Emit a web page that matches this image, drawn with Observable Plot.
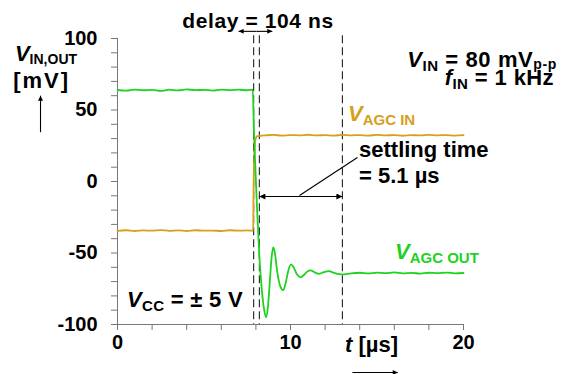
<!DOCTYPE html>
<html><head><meta charset="utf-8">
<script src="https://cdn.jsdelivr.net/npm/d3@7"></script>
<script src="https://cdn.jsdelivr.net/npm/@observablehq/plot@0.6"></script>
<style>body{margin:0;background:#fff} svg{display:block}</style>
</head><body><div id="chart"></div>
<script>
// ---- data ----
const tOut = [0,0.5,1,1.5,2,2.5,3,3.5,4,4.5,5,5.5,6,6.5,7,7.5,7.82,
  7.88,7.95,8.07,8.2,8.36,8.48,8.6,8.7,8.81,8.9,9.0,9.1,9.22,9.4,9.58,9.72,9.88,10.03,10.18,10.38,10.58,10.8,11.0,11.16,11.4,11.64,11.9,12.22,12.5,12.8,13.0,
  13.5,14,14.5,15,15.5,16,16.5,17,17.5,18,18.5,19,19.5,20];
const vOut = [64.0,63.6,64.3,63.8,64.1,63.4,64.2,63.7,64.4,63.9,64.1,63.6,64.3,63.9,64.2,63.8,64.3,
  38,15,-20,-52,-78,-90,-95,-87,-69,-54,-46,-50,-62,-73,-76,-71,-62,-58,-60,-65,-67,-65,-62.8,-62.2,-63.5,-64.6,-63.5,-62.7,-63.8,-64.8,-65,
  -64.2,-63.8,-64.3,-63.7,-64.1,-63.6,-64.2,-63.9,-64.4,-63.8,-64.1,-63.7,-64.2,-64.0];
const tIn = [0,0.5,1,1.5,2,2.5,3,3.5,4,4.5,5,5.5,6,6.5,7,7.5,7.84,
  7.86,7.9,7.97,8.07,8.5,9,9.5,10,10.5,11,11.5,12,12.5,13,13.5,14,14.5,15,15.5,16,16.5,17,17.5,18,18.5,19,19.5,20];
const vIn = [-34.5,-34.1,-34.6,-34.2,-34.4,-34.0,-34.5,-34.2,-34.6,-34.1,-34.4,-34.3,-34.6,-34.1,-34.4,-34.2,-34.4,
  -10,15,29,31.8,32.2,32.6,32.1,32.5,32.3,32.7,32.2,32.5,32.1,32.6,32.3,32.5,32.1,32.6,32.3,32.4,32.0,32.5,32.2,32.6,32.3,32.5,32.1,32.4];
const markerTimes = [7.87, 8.2, 13.0];
const yTicks = d3.range(-100, 101, 10);
const yTickLabels = [-100, -50, 0, 50, 100];
const xTicks = d3.range(0, 21, 2);
const xTickLabels = [0, 10, 20];
const delayText = ["delay = 104 ns"];
const settlingText = ["settling time", "= 5.1 µs"];
const yTitle = ["V", "IN,OUT", "[mV]"];
const xTitle = ["t", " [µs]"];
const inLabel = ["V", "AGC IN"];
const outLabel = ["V", "AGC OUT"];
const condVin = ["V", "IN", " = 80 mV", "p-p"];
const condFin = ["f", "IN", " = 1 kHz"];
const condVcc = ["V", "CC", " = ± 5 V"];

const green = "#1fd21f", gold = "#d6a01c";
const outData = tOut.map((t, i) => ({t, v: vOut[i]}));
const inData = tIn.map((t, i) => ({t, v: vIn[i]}));

const plot = Plot.plot({
  width: 563, height: 374,
  marginLeft: 117, marginRight: 100, marginTop: 38, marginBottom: 50,
  x: {domain: [0, 20], label: null},
  y: {domain: [-100, 100], label: null},
  style: {fontFamily: "'Liberation Sans', Arial, sans-serif", fontWeight: "bold", fontSize: "20px", background: "#fff", overflow: "visible"},
  marks: [
    Plot.axisY(yTicks, {tickSize: 6, tickPadding: 14, stroke: "#777", fill: "#000", tickFormat: d => yTickLabels.includes(d) ? String(d) : "", label: null}),
    Plot.axisX(xTicks, {tickSize: 6, tickPadding: 4, stroke: "#777", fill: "#000", tickFormat: d => xTickLabels.includes(d) ? String(d) : "", label: null}),
    Plot.ruleX([0], {y1: -100, y2: 100, stroke: "#777"}),
    Plot.ruleY([-100], {stroke: "#777"}),
    Plot.ruleX(markerTimes, {y1: 102, y2: -100, stroke: "#222", strokeWidth: 1.1, strokeDasharray: "8,4"}),
    Plot.line(inData, {x: "t", y: "v", stroke: gold, strokeWidth: 1.8, curve: "monotone-x"}),
    Plot.line(outData, {x: "t", y: "v", stroke: green, strokeWidth: 1.8, curve: "monotone-x"}),
    Plot.link([{x1: (markerTimes[0] + markerTimes[1]) / 2, x2: 7.0}, {x1: (markerTimes[0] + markerTimes[1]) / 2, x2: 8.95}],
      {x1: "x1", x2: "x2", y1: 105, y2: 105, stroke: "#000", strokeWidth: 1.1, ariaDescription: "arrowone"}),
    Plot.link([{x1: (markerTimes[1] + markerTimes[2]) / 2, x2: markerTimes[1]}, {x1: (markerTimes[1] + markerTimes[2]) / 2, x2: markerTimes[2]}],
      {x1: "x1", x2: "x2", y1: -10.5, y2: -10.5, stroke: "#000", strokeWidth: 1.1, ariaDescription: "arrowtwo"}),
    Plot.link([{}], {x1: 10.52, y1: -9.8, x2: 13.87, y2: 16.8, stroke: "#000", strokeWidth: 1.1}),
    Plot.link([{}], {x1: -4.45, y1: 34.5, x2: -4.45, y2: 60, stroke: "#000", strokeWidth: 1.1, ariaDescription: "arrowthree"}),
    Plot.link([{}], {x1: 13.58, y1: -133.6, x2: 16.2, y2: -133.6, stroke: "#000", strokeWidth: 1.1, ariaDescription: "arrowthree"})
  ]
});

const svg = d3.select(plot);
const sx = plot.scale("x"), sy = plot.scale("y");
const defs = svg.append("defs");
function mk(id, w, h) {
  defs.append("marker").attr("id", id).attr("viewBox", "0 0 10 10").attr("refX", 10).attr("refY", 5)
    .attr("markerWidth", w).attr("markerHeight", h).attr("markerUnits", "userSpaceOnUse").attr("orient", "auto")
    .append("path").attr("d", "M0,0L10,5L0,10Z").attr("fill", "#000");
}
mk("ah1", 9, 5); mk("ah2", 11, 6); mk("ah3", 9, 5);
svg.selectAll("g[aria-description=arrowone] path").attr("marker-end", "url(#ah1)");
svg.selectAll("g[aria-description=arrowtwo] path").attr("marker-end", "url(#ah2)");
svg.selectAll("g[aria-description=arrowthree] path").attr("marker-end", "url(#ah3)");

function rich(x, y, parts, opts = {}) {
  const tx = svg.append("text").attr("x", sx.apply(x)).attr("y", sy.apply(y))
    .attr("text-anchor", opts.anchor || "start").attr("fill", opts.color || "#000")
    .style("font-weight", "bold").style("font-size", (opts.size || 22) + "px")
    .style("letter-spacing", (opts.ls || 0) + "px");
  let cur = 0;
  for (const p of parts) {
    const off = p.sub || 0;
    tx.append("tspan").attr("dy", off - cur).style("font-size", (p.size || opts.size || 22) + "px")
      .style("font-style", p.it ? "italic" : "normal").text(p.s);
    cur = off;
  }
}
const SUB = 15;
rich(8.15, 107.3, [{s: delayText[0]}], {anchor: "middle", size: 21, ls: 0.6});
rich(-5.9, 84, [{s: yTitle[0], it: true}, {s: yTitle[1], size: 14, sub: 3}]);
rich(-6.0, 65, [{s: yTitle[2]}], {ls: 2});
rich(13.18, -119.6, [{s: xTitle[0], it: true}, {s: xTitle[1]}]);
rich(13.35, 42, [{s: inLabel[0], it: true}, {s: inLabel[1], size: SUB, sub: 4}], {color: gold});
rich(16.07, -54.5, [{s: outLabel[0], it: true}, {s: outLabel[1], size: SUB, sub: 4}], {color: green});
rich(13.99, 17.1, [{s: settlingText[0]}]);
rich(13.99, -1.4, [{s: settlingText[1]}]);
rich(25.43, 80, [{s: condVin[0], it: true}, {s: condVin[1], size: SUB, sub: 4}, {s: condVin[2]}, {s: condVin[3], size: 14, sub: 2}], {anchor: "end", ls: 0.6});
rich(25.26, 67.1, [{s: condFin[0], it: true}, {s: condFin[1], size: SUB, sub: 4}, {s: condFin[2]}], {anchor: "end", ls: 0.4});
rich(0.58, -87.8, [{s: condVcc[0], it: true}, {s: condVcc[1], size: SUB, sub: 4}, {s: condVcc[2]}], {ls: 0.3});

document.getElementById("chart").appendChild(plot);
</script>
</body></html>
